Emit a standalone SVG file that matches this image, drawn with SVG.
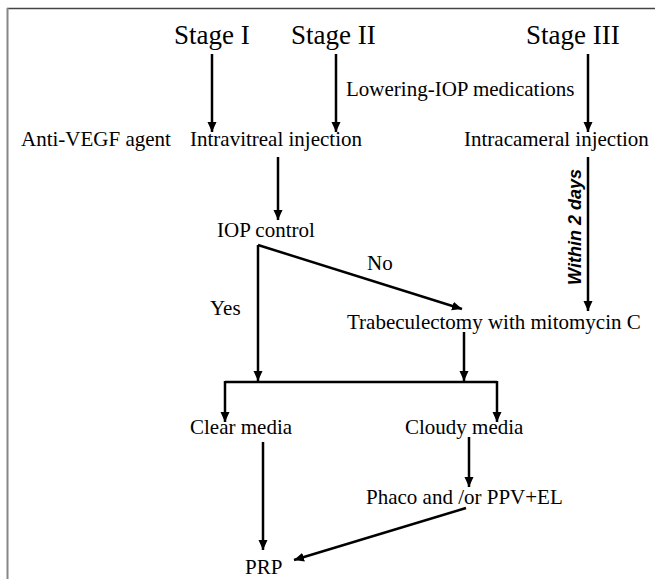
<svg xmlns="http://www.w3.org/2000/svg" width="655" height="579" viewBox="0 0 655 579">
<defs>
<marker id="ah" markerUnits="userSpaceOnUse" markerWidth="10" markerHeight="10" refX="10" refY="5" orient="auto">
<path d="M0,0.5 L10,5 L0,9.5 z" fill="#000"/>
</marker>
<style>
.t{font-family:"Liberation Serif","Times New Roman",serif;font-size:21px;fill:#000}
.s{font-family:"Liberation Serif","Times New Roman",serif;font-size:27px;fill:#000}
.w{font-family:"Liberation Sans",Arial,sans-serif;font-size:18px;font-weight:bold;font-style:italic;fill:#000}
.c{stroke:#000;stroke-width:2.5;fill:none}
.a{marker-end:url(#ah)}
</style>
</defs>
<rect width="655" height="579" fill="#fff"/>
<line x1="7" y1="8.5" x2="655" y2="8.5" stroke="#444" stroke-width="1.5"/>
<line x1="7.5" y1="8" x2="7.5" y2="579" stroke="#888" stroke-width="2"/>
<g id="connectors">
<path class="c a" d="M212,54 L212,132"/>
<path class="c a" d="M336,54 L336,132"/>
<path class="c a" d="M588,54 L588,132"/>
<path class="c a" d="M278,157 L278,220"/>
<path class="c a" d="M258,245 L258,381"/>
<path class="c a" d="M258,245 L462,309"/>
<path class="c a" d="M588,157 L588,311"/>
<path class="c a" d="M464,332 L464,381"/>
<path class="c" d="M225,382 L497,382"/>
<path class="c a" d="M225,381 L225,422"/>
<path class="c a" d="M497,381 L497,422"/>
<path class="c a" d="M263,442 L263,550"/>
<path class="c a" d="M469,437 L469,487"/>
<path class="c a" d="M466,508 L294,560"/>
<text class="w" transform="translate(581,227) rotate(-90)" text-anchor="middle">Within 2 days</text>
<text class="t" x="367" y="270">No</text>
<text class="t" x="210" y="315">Yes</text>
<text class="t" x="346" y="96">Lowering-IOP medications</text>
</g>
<g id="stage1"><text class="s" x="174" y="44">Stage I</text></g>
<g id="stage2"><text class="s" x="291" y="44">Stage II</text></g>
<g id="stage3"><text class="s" x="526" y="44">Stage III</text></g>
<g id="antivegf"><text class="t" x="21" y="146">Anti-VEGF agent</text></g>
<g id="intravitreal"><text class="t" x="190" y="146">Intravitreal injection</text></g>
<g id="intracameral"><text class="t" x="464" y="146">Intracameral injection</text></g>
<g id="iopcontrol"><text class="t" x="217" y="237">IOP control</text></g>
<g id="trab"><text class="t" x="347" y="329">Trabeculectomy with mitomycin C</text></g>
<g id="clear"><text class="t" x="190" y="434">Clear media</text></g>
<g id="cloudy"><text class="t" x="405" y="434">Cloudy media</text></g>
<g id="phaco"><text class="t" x="366" y="504">Phaco and /or PPV+EL</text></g>
<g id="prp"><text class="t" x="245" y="574">PRP</text></g>
</svg>
